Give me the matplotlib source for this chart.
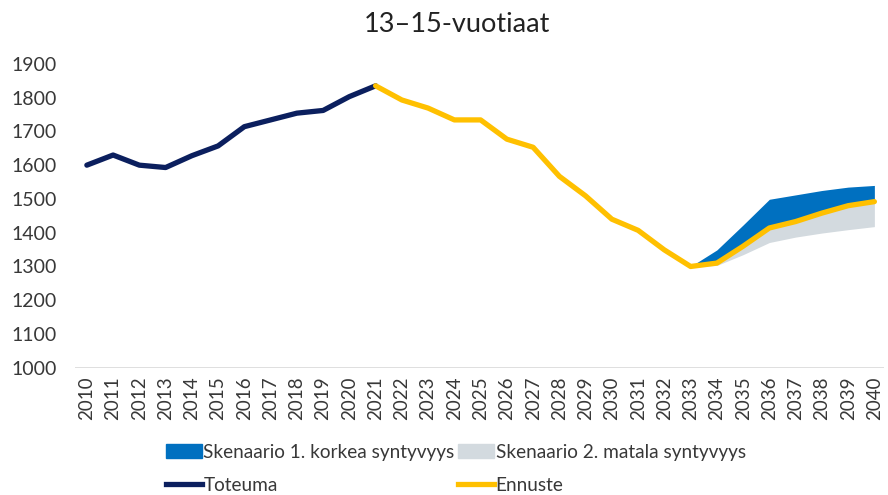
import numpy as np
import matplotlib.pyplot as plt
from matplotlib.patches import Patch
from matplotlib.lines import Line2D

plt.rcParams['font.family'] = ['Lato', 'DejaVu Sans']

years_hist = list(range(2010, 2022))
toteuma = [1600, 1630, 1600, 1593, 1628, 1657, 1714, 1734, 1754, 1762, 1803, 1835]

years_fc = list(range(2021, 2041))
ennuste = [1835, 1793, 1769, 1734, 1734, 1677, 1653, 1567, 1509, 1440, 1407, 1349,
           1300, 1310, 1360, 1414, 1433, 1458, 1480, 1492]

years_sc = list(range(2033, 2041))
sc_base = [1300, 1310, 1360, 1414, 1433, 1458, 1480, 1492]
sc_high = [1300, 1349, 1423, 1499, 1512, 1525, 1535, 1540]
sc_low = [1300, 1303, 1335, 1371, 1387, 1399, 1409, 1418]

title = '13–15-vuotiaat'
labels = ['Skenaario 1. korkea syntyvyys', 'Skenaario 2. matala syntyvyys', 'Toteuma', 'Ennuste']

navy = '#0b1f5e'
yellow = '#ffc000'
blue = '#0070c0'
grey = '#d3dadf'
text_col = '#383838'

fig = plt.figure(figsize=(8.88, 4.95), dpi=100)
ax = fig.add_axes([0.0845, 0.257, 0.9105, 0.614])

ax.fill_between(years_sc, sc_base, sc_high, color=blue, lw=0)
ax.fill_between(years_sc, sc_low, sc_base, color=grey, lw=0)
ax.plot(years_hist, toteuma, color=navy, lw=3.8, solid_capstyle='round', zorder=3)
ax.plot(years_fc, ennuste, color=yellow, lw=3.8, solid_capstyle='round', zorder=3)

ax.set_ylim(1000, 1900)
ax.set_xlim(2009.55, 2040.35)
ax.set_yticks(range(1000, 2000, 100))
ax.set_xticks(range(2010, 2041))
ax.set_xticklabels([str(y) for y in range(2010, 2041)], rotation=90)
ax.tick_params(axis='y', length=0, pad=13, labelsize=14, labelcolor=text_col)
ax.tick_params(axis='x', length=0, pad=6, labelsize=13.5, labelcolor=text_col)
for s in ax.spines.values():
    s.set_visible(False)
ax.axhline(1000, color='#d9d9d9', lw=1.2, zorder=1)

fig.suptitle(title, x=0.515, y=0.975, fontsize=19.5, color='#222222')

handles = [Patch(color=blue), Line2D([], [], color=navy, lw=3.8),
           Patch(color=grey), Line2D([], [], color=yellow, lw=3.8)]
leg_labels = [labels[0], labels[2], labels[1], labels[3]]
fig.legend(handles, leg_labels, ncol=2, loc='center left', bbox_to_anchor=(0.168, 0.053),
           frameon=False, fontsize=13.7, handlelength=1.85, handleheight=0.8,
           handletextpad=0.1, columnspacing=0.2, labelspacing=0.85, labelcolor=text_col)

fig.savefig('out.png', dpi=100)
